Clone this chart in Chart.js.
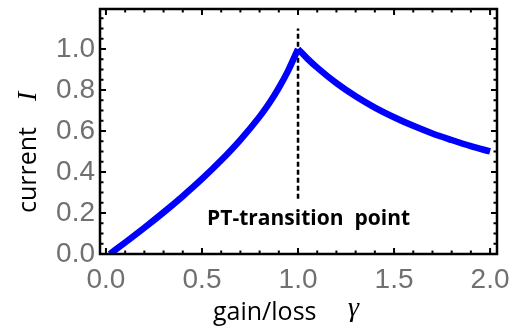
<!DOCTYPE html>
<html>
<head>
<meta charset="utf-8">
<script src="https://cdn.jsdelivr.net/npm/chart.js@4.4.1/dist/chart.umd.min.js"></script>
<style>
  html, body { margin: 0; padding: 0; background: #fff; }
  #wrap { width: 518px; height: 331px; }
</style>
</head>
<body>
<div id="wrap"><canvas id="chart"></canvas></div>
<script>
// values: rising branch (gamma < 1) and falling branch (gamma > 1)
const gammaLeft    = [0.02, 0.1, 0.2, 0.3, 0.4, 0.5, 0.6, 0.7, 0.8, 0.85, 0.9, 0.95, 1.0];
const currentLeft  = [0.0, 0.056, 0.128, 0.203, 0.282, 0.366, 0.457, 0.557, 0.67, 0.735, 0.81, 0.897, 1.0];
const gammaRight   = [1.0, 1.05, 1.1, 1.2, 1.3, 1.4, 1.5, 1.6, 1.7, 1.8, 1.9, 2.0];
const currentRight = [1.0, 0.952, 0.909, 0.833, 0.769, 0.714, 0.667, 0.625, 0.588, 0.556, 0.526, 0.5];
const xTickValues = [0, 0.5, 1, 1.5, 2];
const yTickValues = [0, 0.2, 0.4, 0.6, 0.8, 1.0];
const transitionX = [1, 1];
const transitionY = [0.27, 1.1];

const labelGrey = "#707070";
const tickFont = { family: "'Liberation Sans', Arial, sans-serif", size: 28 };

// Mathematica-like frame with inward ticks, axis titles and the annotation
const framePlugin = {
  id: "frame",
  afterDatasetsDraw: function (chart) {
    const ctx = chart.ctx;
    const a = chart.chartArea;
    const xs = chart.scales.x;
    const ys = chart.scales.y;
    ctx.save();
    ctx.setLineDash([]);
    ctx.strokeStyle = "#000000";
    ctx.lineWidth = 2;

    // minor/major ticks on all four sides
    ctx.beginPath();
    for (let i = 0; i <= 20; i++) {
      const px = xs.getPixelForValue(i / 10);
      const len = i % 5 === 0 ? 6 : 3.5;
      ctx.moveTo(px, a.bottom); ctx.lineTo(px, a.bottom - len);
      ctx.moveTo(px, a.top);    ctx.lineTo(px, a.top + len);
    }
    for (let i = 0; i <= 23; i++) {
      const py = ys.getPixelForValue(i * 0.05);
      const len = i % 4 === 0 ? 6 : 3.5;
      ctx.moveTo(a.left, py);  ctx.lineTo(a.left + len, py);
      ctx.moveTo(a.right, py); ctx.lineTo(a.right - len, py);
    }
    ctx.stroke();

    ctx.lineWidth = 2.5;
    ctx.beginPath();
    ctx.rect(a.left, a.top, a.right - a.left, a.bottom - a.top);
    ctx.stroke();

    // x title
    ctx.fillStyle = "#000000";
    ctx.textBaseline = "alphabetic";
    ctx.textAlign = "left";
    ctx.font = "25px 'Open Sans', sans-serif";
    ctx.fillText("gain/loss", 213, 320);
    ctx.font = "italic 28px 'Liberation Serif', 'Times New Roman', serif";
    ctx.fillText("\u03b3", 348, 316);

    // y title, rotated
    ctx.save();
    ctx.translate(36, 0);
    ctx.rotate(-Math.PI / 2);
    ctx.font = "25px 'Open Sans', sans-serif";
    ctx.fillText("current", -213, 0);
    ctx.font = "italic 28px 'Liberation Serif', 'Times New Roman', serif";
    ctx.fillText("I", -101, 0);
    ctx.restore();

    // annotation
    ctx.font = "bold 21px 'Open Sans', sans-serif";
    ctx.textAlign = "center";
    ctx.fillText("PT-transition  point", xs.getPixelForValue(1.055), 225);

    ctx.restore();
  }
};

const blueLine = {
  showLine: true,
  borderColor: "#0000ff",
  borderWidth: 6.5,
  pointRadius: 0,
  cubicInterpolationMode: "monotone"
};

new Chart(document.getElementById("chart"), {
  type: "scatter",
  data: {
    datasets: [
      Object.assign({ data: gammaLeft.map((g, i) => ({ x: g, y: currentLeft[i] })) }, blueLine),
      Object.assign({ data: gammaRight.map((g, i) => ({ x: g, y: currentRight[i] })) }, blueLine),
      {
        data: transitionX.map((g, i) => ({ x: g, y: transitionY[i] })),
        showLine: true,
        borderColor: "#000",
        borderWidth: 2.5,
        borderDash: [5, 3],
        pointRadius: 0
      }
    ]
  },
  options: {
    responsive: true,
    maintainAspectRatio: false,
    animation: false,
    events: [],
    layout: { padding: { left: 0, top: 9, right: 21, bottom: 0 } },
    plugins: { legend: { display: false }, tooltip: { enabled: false } },
    scales: {
      x: {
        type: "linear",
        min: -0.031,
        max: 2.036,
        grid: { display: false, drawTicks: false },
        border: { display: false },
        afterBuildTicks: (scale) => { scale.ticks = xTickValues.map(v => ({ value: v })); },
        afterFit: (scale) => { scale.height = 77; scale.paddingLeft = 0; scale.paddingRight = 0; },
        ticks: {
          color: labelGrey,
          font: tickFont,
          padding: 9,
          maxRotation: 0,
          autoSkip: false,
          callback: (v) => v.toFixed(1)
        }
      },
      y: {
        type: "linear",
        min: 0,
        max: 1.195,
        grid: { display: false, drawTicks: false },
        border: { display: false },
        afterBuildTicks: (scale) => { scale.ticks = yTickValues.map(v => ({ value: v })); },
        afterFit: (scale) => { scale.width = 100; scale.paddingTop = 0; scale.paddingBottom = 0; },
        ticks: {
          color: labelGrey,
          font: tickFont,
          padding: 5,
          autoSkip: false,
          callback: (v) => v.toFixed(1)
        }
      }
    }
  },
  plugins: [framePlugin]
});
</script>
</body>
</html>
